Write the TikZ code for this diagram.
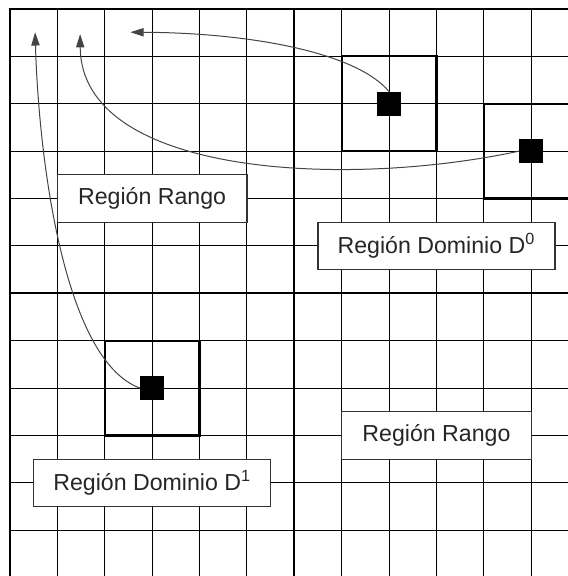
\documentclass[tikz,border=0pt]{standalone}
\usepackage{fontspec}
\setmainfont{Liberation Sans}
\usepackage{tikz}
\usetikzlibrary{arrows.meta}
\definecolor{labelGray}{HTML}{333333}
\definecolor{curveGray}{HTML}{444444}

\begin{document}
\begin{tikzpicture}[y=-1cm,
    etiqueta/.style={draw=labelGray, line width=0.7pt, fill=white, minimum height=1cm, inner sep=0pt, font=\fontsize{13.9}{16}\selectfont, text=black!85},
    bloque/.style={fill=black, minimum size=0.5cm, inner sep=0pt},
    flecha/.style={draw=curveGray, line width=0.6pt, -{Triangle[length=8pt,width=5pt]}}]
            \clip (-0.211,-0.19) rectangle (11.776,11.966);
            \foreach \k in {1,...,11} {
                \draw[line width=0.6pt] (\k,0) -- (\k,12);
                \draw[line width=0.6pt] (0,\k) -- (12,\k);
            }
            \draw[line width=1.3pt] (0,0) rectangle (12,12);
            \draw[line width=1.3pt] (6,0) -- (6,12);
            \draw[line width=1.3pt] (0,6) -- (12,6);
            % bloques dominio
            \draw[line width=1.3pt] (7,1) rectangle (9,3);
            \draw[line width=1.3pt] (10,2) rectangle (12,4);
            \draw[line width=1.3pt] (2,7) rectangle (4,9);
            \node[bloque] (sqa) at (8,2) {};
            \node[bloque] (sqb) at (11,3) {};
            \node[bloque] (sqc) at (3,8) {};
            % etiquetas
            \node[etiqueta, minimum width=4cm] (rangoA) at (3,4) {Región Rango};
            \node[etiqueta, minimum width=5cm] (domA) at (9,5) {Región Dominio D\textsuperscript{0}};
            \node[etiqueta, minimum width=4cm] (rangoB) at (9,9) {Región Rango};
            \node[etiqueta, minimum width=5cm] (domB) at (3,10) {Región Dominio D\textsuperscript{1}};
            % destinos
            \coordinate (tipc) at (0.53,0.49);
            \coordinate (tipb) at (1.48,0.53);
            \coordinate (tipa) at (2.54,0.49);
            \draw[flecha] (sqc.west) .. controls (1.1,7.4) and (0.6,3) .. (tipc);
            \draw[flecha] (sqb.west) .. controls (7,3.8) and (1.5,3.5) .. (tipb);
            \draw[flecha] (sqa.north) .. controls (7.3,0.9) and (5,0.5) .. (tipa);
        \end{tikzpicture}
\end{document}
